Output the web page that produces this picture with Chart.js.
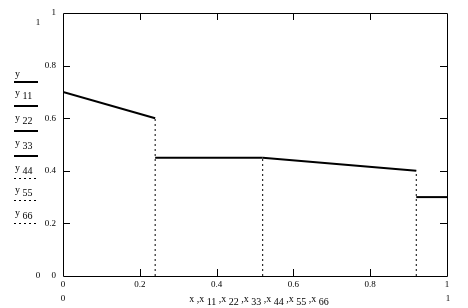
<!DOCTYPE html>
<html>
<head>
<meta charset="utf-8">
<script src="https://cdn.jsdelivr.net/npm/chart.js@4/dist/chart.umd.min.js"></script>
<style>
html, body { margin: 0; padding: 0; background: #fff; }
canvas { display: block; }
</style>
</head>
<body>
<canvas id="c" width="468" height="308"></canvas>
<script>
// series values
var xY = [0, 0.24], yY = [0.7, 0.6];
var x11 = [0.24, 0.52], y11 = [0.45, 0.45];
var x22 = [0.52, 0.92], y22 = [0.45, 0.40];
var x33 = [0.92, 1], y33 = [0.3, 0.3];
var x44 = [0.24, 0.24], y44 = [0, 0.6];
var x55 = [0.52, 0.52], y55 = [0, 0.45];
var x66 = [0.92, 0.92], y66 = [0, 0.4];

var seriesNames = ['y', 'y 11', 'y 22', 'y 33', 'y 44', 'y 55', 'y 66'];
var seriesX = [xY, x11, x22, x33, x44, x55, x66];
var seriesY = [yY, y11, y22, y33, y44, y55, y66];
var seriesDotted = [false, false, false, false, true, true, true];

var tickValues = [0.2, 0.4, 0.6, 0.8];
var xTitle = ['x', ' ,x', ' 11', ' ,x', ' 22', ' ,x', ' 33', ' ,x', ' 44', ' ,x', ' 55', ' ,x', ' 66'];
var xLimits = ['0', '1'];
var yLimits = ['0', '1'];

var FONT = '"Liberation Serif", "Times New Roman", serif';

function toPoints(xs, ys) {
	var pts = [], i;
	for (i = 0; i < xs.length; i++) {
		pts.push({ x: xs[i], y: ys[i] });
	}
	return pts;
}

var datasets = seriesNames.map(function (name, i) {
	return {
		label: name,
		data: toPoints(seriesX[i], seriesY[i]),
		borderColor: '#000',
		borderWidth: seriesDotted[i] ? 1 : 2,
		borderDash: seriesDotted[i] ? [2, 3] : [],
		pointRadius: 0,
		fill: false,
		tension: 0
	};
});

// draw one label made of main text and lowered subscript parts
function drawSubText(ctx, parts, x, y, align) {
	var widths = parts.map(function (p) { return ctx.measureText(p).width; });
	var total = widths.reduce(function (a, b) { return a + b; }, 0);
	var cx = align === 'center' ? x - total / 2 : x;
	parts.forEach(function (p, i) {
		var sub = /\d/.test(p);
		ctx.fillText(p, cx, y + (sub ? 3 : 0));
		cx += widths[i];
	});
}

var mathcadFrame = {
	id: 'mathcadFrame',
	afterDatasetsDraw: function (chart) {
		var ctx = chart.ctx,
			a = chart.chartArea,
			xs = chart.scales.x,
			ys = chart.scales.y,
			tl = 7;
		ctx.save();
		ctx.strokeStyle = '#000';
		ctx.lineWidth = 1;
		ctx.beginPath();
		ctx.rect(Math.round(a.left) + 0.5, Math.round(a.top) + 0.5,
			Math.round(a.right - a.left), Math.round(a.bottom - a.top));
		// inward ticks on all four sides
		tickValues.forEach(function (v) {
			var px = Math.round(xs.getPixelForValue(v)) + 0.5;
			var py = Math.round(ys.getPixelForValue(v)) + 0.5;
			ctx.moveTo(px, a.bottom); ctx.lineTo(px, a.bottom - tl);
			ctx.moveTo(px, a.top); ctx.lineTo(px, a.top + tl);
			ctx.moveTo(a.left, py); ctx.lineTo(a.left + tl, py);
			ctx.moveTo(a.right, py); ctx.lineTo(a.right - tl, py);
		});
		ctx.stroke();

		ctx.fillStyle = '#000';
		ctx.font = '9px ' + FONT;
		ctx.textBaseline = 'alphabetic';

		// axis range limits, Mathcad style
		ctx.textAlign = 'center';
		ctx.fillText(yLimits[1], 38, ys.getPixelForValue(1) + 12);
		ctx.fillText(yLimits[0], 38, ys.getPixelForValue(0) + 2);
		ctx.fillText(xLimits[0], xs.getPixelForValue(0), a.bottom + 25);
		ctx.fillText(xLimits[1], xs.getPixelForValue(1) + 1, a.bottom + 25);

		// x axis title with subscripts
		ctx.font = '10px ' + FONT;
		ctx.textAlign = 'left';
		drawSubText(ctx, xTitle, (a.left + a.right) / 2 + 4, a.bottom + 26, 'center');

		// legend stacked at the left
		var labelY = [77, 96, 121, 146, 171, 193, 216];
		var lineY = [82, 106, 131, 156, 178, 200, 223];
		seriesNames.forEach(function (name, i) {
			var parts = name.split(' ');
			if (parts.length > 1) {
				parts = [parts[0], ' ' + parts[1]];
			}
			drawSubText(ctx, parts, 15, labelY[i], 'left');
			ctx.beginPath();
			ctx.lineWidth = seriesDotted[i] ? 1 : 2;
			ctx.setLineDash(seriesDotted[i] ? [2, 3] : []);
			var ly = seriesDotted[i] ? lineY[i] + 0.5 : lineY[i];
			ctx.moveTo(14, ly);
			ctx.lineTo(38, ly);
			ctx.stroke();
		});
		ctx.restore();
	}
};

new Chart(document.getElementById('c'), {
	type: 'line',
	data: { datasets: datasets },
	options: {
		responsive: false,
		animation: false,
		events: [],
		layout: { padding: { left: 0, right: 21, top: 13, bottom: 0 } },
		plugins: {
			legend: { display: false },
			tooltip: { enabled: false }
		},
		scales: {
			x: {
				type: 'linear',
				min: 0,
				max: 1,
				afterFit: function (s) { s.height = 32; },
				grid: { display: false, drawTicks: false },
				border: { display: false },
				ticks: {
					stepSize: 0.2,
					autoSkip: false,
					maxRotation: 0,
					padding: 3,
					color: '#000',
					font: { family: FONT, size: 9 },
					callback: function (v) { return String(+v.toFixed(1)); }
				}
			},
			y: {
				type: 'linear',
				min: 0,
				max: 1,
				afterFit: function (s) { s.width = 63; },
				grid: { display: false, drawTicks: false },
				border: { display: false },
				ticks: {
					stepSize: 0.2,
					padding: 7,
					color: '#000',
					font: { family: FONT, size: 9 },
					callback: function (v) { return String(+v.toFixed(1)); }
				}
			}
		}
	},
	plugins: [mathcadFrame]
});
</script>
</body>
</html>
